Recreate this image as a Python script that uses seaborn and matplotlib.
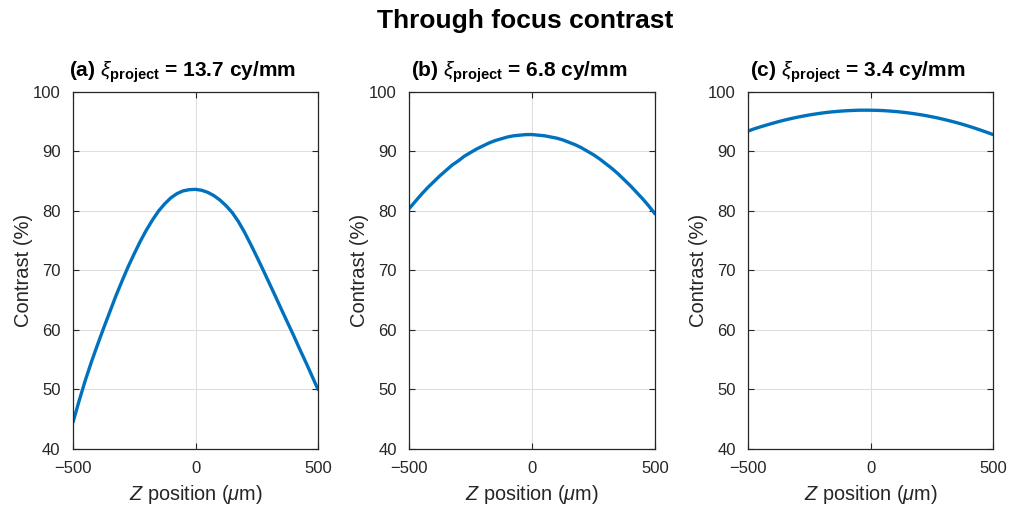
import numpy as np
import pandas as pd
import matplotlib
matplotlib.use("Agg")
import matplotlib.pyplot as plt
import seaborn as sns

# ---- data ----
z_um = [-500, -475, -450, -425, -400, -375, -350, -325, -300, -275, -250,
        -225, -200, -175, -150, -125, -100, -75, -50, -25, 0,
        25, 50, 75, 100, 125, 150, 175, 200, 225, 250,
        275, 300, 325, 350, 375, 400, 425, 450, 475, 500]
contrast_a = [44.5, 48.1, 51.5, 54.6, 57.5, 60.3, 63.0, 65.7, 68.2, 70.6, 72.8,
              74.9, 76.8, 78.5, 80.0, 81.2, 82.2, 82.9, 83.35, 83.55, 83.6,
              83.45, 83.1, 82.55, 81.8, 80.85, 79.7, 78.2, 76.4, 74.4, 72.3,
              70.15, 67.95, 65.75, 63.5, 61.3, 59.1, 56.8, 54.6, 52.3, 50.0]
contrast_b = [80.4, 81.6, 82.8, 83.9, 84.9, 85.9, 86.8, 87.7, 88.4, 89.2, 89.8,
              90.4, 90.9, 91.4, 91.8, 92.1, 92.4, 92.6, 92.7, 92.8, 92.8,
              92.7, 92.6, 92.4, 92.2, 91.9, 91.5, 91.1, 90.6, 90.0, 89.4,
              88.7, 87.9, 87.1, 86.2, 85.2, 84.2, 83.1, 82.0, 80.8, 79.5]
contrast_c = [93.4, 93.78, 94.1, 94.41, 94.7, 94.99, 95.25, 95.49, 95.71, 95.91, 96.1,
              96.26, 96.41, 96.54, 96.64, 96.73, 96.8, 96.85, 96.89, 96.9, 96.89,
              96.87, 96.83, 96.76, 96.68, 96.58, 96.46, 96.32, 96.16, 95.99, 95.79,
              95.58, 95.34, 95.09, 94.82, 94.53, 94.22, 93.89, 93.54, 93.18, 92.8]
panel_titles = [r"(a) $\xi_{\mathbf{project}}$ = 13.7 cy/mm",
                r"(b) $\xi_{\mathbf{project}}$ = 6.8 cy/mm",
                r"(c) $\xi_{\mathbf{project}}$ = 3.4 cy/mm"]
x_ticks = [-500, 0, 500]
y_ticks = [40, 50, 60, 70, 80, 90, 100]
main_title = "Through focus contrast"
x_label = r"$Z$ position ($\mu$m)"
y_label = "Contrast (%)"

sns.set_style("white")
plt.rcParams["font.family"] = ["Liberation Sans", "DejaVu Sans"]
plt.rcParams["mathtext.fontset"] = "custom"
plt.rcParams["mathtext.rm"] = "Liberation Sans"
plt.rcParams["mathtext.it"] = "Liberation Sans:italic"
plt.rcParams["mathtext.bf"] = "Liberation Sans:bold"

ink = "#262626"
line_color = "#0072BD"

fig = plt.figure(figsize=(10.11, 5.08), dpi=100)
lefts = [73 / 1011, 409.3 / 1011, 748.3 / 1011]
widths = [245 / 1011, 245.7 / 1011, 244.7 / 1011]
bottom = (508 - 449) / 508
height = (449 - 91.7) / 508

series = [contrast_a, contrast_b, contrast_c]
for i in range(3):
    ax = fig.add_axes([lefts[i], bottom, widths[i], height])
    df = pd.DataFrame({"z": z_um, "c": series[i]})
    sns.lineplot(data=df, x="z", y="c", ax=ax, color=line_color, linewidth=2.4)
    ax.set_xlim(-500, 500)
    ax.set_ylim(40, 100)
    ax.set_xticks(x_ticks)
    ax.set_yticks(y_ticks)
    ax.grid(True, color="#dfdfdf", linewidth=0.8)
    ax.set_axisbelow(True)
    for s in ax.spines.values():
        s.set_visible(True)
        s.set_color(ink)
        s.set_linewidth(0.9)
    ax.tick_params(direction="in", length=4, width=0.8, colors=ink,
                   labelsize=12, top=True, right=True, bottom=True, left=True,
                   labelcolor=ink)
    ax.tick_params(axis="x", pad=8.5)
    ax.tick_params(axis="y", pad=9)
    ax.set_xlabel(x_label, fontsize=14.3, color=ink, labelpad=5)
    ax.set_ylabel(y_label, fontsize=14.5, color=ink, labelpad=0)
    ax.set_title(panel_titles[i], fontsize=15, fontweight="bold", color="black",
                 pad=11, x=0.447)

fig.text(0.519, 1 - 21 / 508, main_title, ha="center", va="center",
         fontsize=19, fontweight="bold", color="black")

fig.savefig("out.png", dpi=100)
